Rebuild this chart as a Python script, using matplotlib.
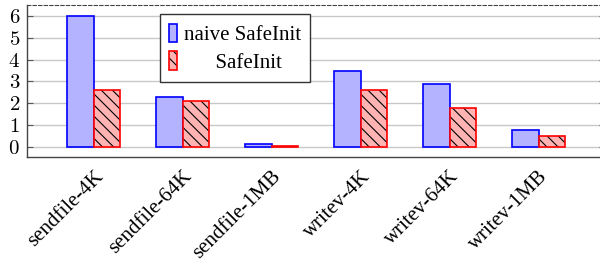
import numpy as np
import matplotlib
matplotlib.use("Agg")
import matplotlib.pyplot as plt
import matplotlib.transforms as mtransforms
from matplotlib.patches import Patch
from matplotlib.legend_handler import HandlerTuple
from matplotlib.ticker import FormatStrFormatter

categories = ["sendfile-4K", "sendfile-64K", "sendfile-1MB",
              "writev-4K", "writev-64K", "writev-1MB"]
naive = [6.0, 2.3, 0.12, 3.5, 2.9, 0.8]
safeinit = [2.6, 2.1, 0.03, 2.6, 1.8, 0.5]
yticks = [0, 1, 2, 3, 4, 5, 6]

plt.rcParams["font.family"] = ["Liberation Serif", "DejaVu Serif"]
plt.rcParams["mathtext.fontset"] = "cm"
plt.rcParams["hatch.linewidth"] = 0.8

fig = plt.figure(figsize=(6, 2.64), dpi=100)
ax = fig.add_axes([0.045, 0.405, 0.964, 0.576])

x = np.arange(len(categories))
w = 0.3
blue_fc = "#b3b3ff"
red_fc = "#ffb3b3"

ax.bar(x - w / 2, naive, w, facecolor=blue_fc, edgecolor="blue", linewidth=1.2, zorder=3)
ax.bar(x + w / 2, safeinit, w, facecolor=red_fc, edgecolor="black", hatch="\\\\\\", linewidth=0, zorder=3)
ax.bar(x + w / 2, safeinit, w, facecolor="none", edgecolor="red", linewidth=1.2, zorder=4)

ax.set_xlim(-0.75, len(categories) - 0.25)
ax.set_ylim(-0.46, 6.5)
ax.set_yticks(yticks)
ax.yaxis.set_major_formatter(FormatStrFormatter("$%d$"))
ax.set_xticks(x)
ax.set_xticklabels(categories, rotation=45, ha="right", rotation_mode="anchor", fontsize=15)
shift = mtransforms.ScaledTranslation(-6 / 100, 0, fig.dpi_scale_trans)
for lbl in ax.get_xticklabels():
    lbl.set_transform(lbl.get_transform() + shift)
ax.tick_params(axis="x", length=0, pad=7)
ax.tick_params(axis="y", direction="in", length=4, color="#555555", labelsize=15, right=True, pad=5)
ax.yaxis.grid(True, color="#c8c8c8", linewidth=1, zorder=0)
ax.set_axisbelow(True)

for s in ["left", "bottom", "right"]:
    ax.spines[s].set_color("#444444")
    ax.spines[s].set_linewidth(1)
ax.spines["top"].set_linestyle((0, (3, 2)))
ax.spines["top"].set_color("#444444")
ax.spines["top"].set_linewidth(0.8)

h1 = Patch(facecolor=blue_fc, edgecolor="blue", linewidth=1.2)
h2a = Patch(facecolor=red_fc, edgecolor="black", hatch="\\\\\\", linewidth=0)
h2b = Patch(facecolor="none", edgecolor="red", linewidth=1.2)
leg = ax.legend([h1, (h2a, h2b)], ["naive SafeInit", "      SafeInit"],
                handler_map={tuple: HandlerTuple(ndivide=1, pad=0)},
                loc="upper left", bbox_to_anchor=(0.23, 0.94), borderaxespad=0,
                fontsize=15, handlelength=0.35, handleheight=1.0, handletextpad=0.35,
                fancybox=False, framealpha=1, edgecolor="#333333",
                borderpad=0.45, labelspacing=0.3)
leg.get_frame().set_linewidth(1)

fig.savefig("out.png", dpi=100)
